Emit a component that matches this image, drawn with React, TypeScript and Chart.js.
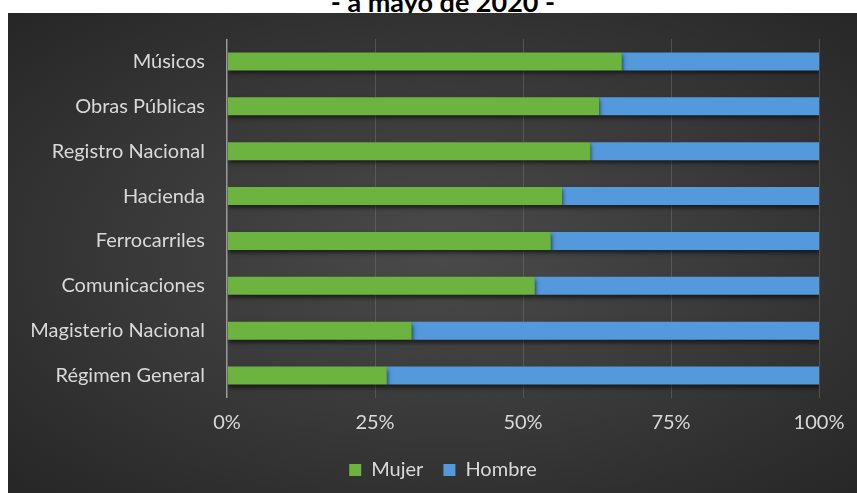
import React, { useEffect, useRef } from "react";
import { Chart, registerables } from "chart.js";

Chart.register(...registerables);

const categories = [
  "Músicos",
  "Obras Públicas",
  "Registro Nacional",
  "Hacienda",
  "Ferrocarriles",
  "Comunicaciones",
  "Magisterio Nacional",
  "Régimen General",
];
const mujer = [66.7, 62.9, 61.4, 56.6, 54.7, 52.0, 31.2, 27.0];
const hombre = [33.3, 37.1, 38.6, 43.4, 45.3, 48.0, 68.8, 73.0];
const xTicks = ["0%", "25%", "50%", "75%", "100%"];
const titleText = "- a mayo de 2020 -";

const FONT = "Lato, 'Open Sans', sans-serif";

export default function App() {
  const ref = useRef<HTMLCanvasElement | null>(null);

  useEffect(() => {
    if (!ref.current) return;
    const shadowPlugin = {
      id: "barShadow",
      beforeDatasetsDraw(chart: any) {
        const ctx = chart.ctx;
        ctx.save();
        ctx.shadowColor = "rgba(0,0,0,0.55)";
        ctx.shadowBlur = 4;
        ctx.shadowOffsetX = 1;
        ctx.shadowOffsetY = 3;
      },
      afterDatasetsDraw(chart: any) {
        chart.ctx.restore();
      },
    };
    const chart = new Chart(ref.current, {
      type: "bar",
      data: {
        labels: categories,
        datasets: [
          {
            label: "Mujer",
            data: mujer,
            backgroundColor: "#6CB33F",
            borderWidth: 0,
            barPercentage: 0.4,
            categoryPercentage: 1,
          },
          {
            label: "Hombre",
            data: hombre,
            backgroundColor: "#5499DC",
            borderWidth: 0,
            barPercentage: 0.4,
            categoryPercentage: 1,
          },
        ],
      },
      options: {
        indexAxis: "y",
        animation: false,
        responsive: false,
        maintainAspectRatio: false,
        layout: { padding: { top: 26, right: 0, left: 0, bottom: 3 } },
        scales: {
          x: {
            stacked: true,
            min: 0,
            max: 100,
            afterBuildTicks(scale: any) {
              scale.ticks = [0, 25, 50, 75, 100].map((v) => ({ value: v }));
            },
            afterFit(scale: any) {
              scale.height = 42;
              scale.paddingLeft = 0;
              scale.paddingRight = 0;
            },
            border: { display: false },
            grid: {
              drawTicks: false,
              color: (c: any) => (c.index === 0 ? "#9a9a9a" : "rgba(120,120,120,0.45)"),
              lineWidth: (c: any) => (c.index === 0 ? 1.5 : 1),
            },
            ticks: {
              padding: 13,
              color: "#d9d9d9",
              font: { family: FONT, size: 20 },
              callback: (_v: any, i: number) => xTicks[i],
              maxRotation: 0,
            },
          },
          y: {
            stacked: true,
            afterFit(scale: any) {
              scale.width = 219;
              scale.paddingTop = 0;
              scale.paddingBottom = 0;
            },
            border: { display: false },
            grid: { display: false, drawTicks: false },
            ticks: {
              padding: 22,
              color: "#d9d9d9",
              font: { family: FONT, size: 20 },
            },
          },
          yRight: {
            type: "category",
            position: "right",
            labels: categories,
            afterFit(scale: any) {
              scale.width = 59;
              scale.paddingTop = 0;
              scale.paddingBottom = 0;
            },
            border: { display: false },
            grid: { display: false, drawTicks: false },
            ticks: { display: false },
          },
        },
        plugins: {
          title: { display: false },
          tooltip: { enabled: false },
          legend: {
            display: true,
            position: "bottom",
            labels: {
              color: "#d9d9d9",
              font: { family: FONT, size: 20 },
              boxWidth: 12,
              boxHeight: 12,
              padding: 20,
            },
          },
        },
      },
      plugins: [shadowPlugin],
    } as any);
    return () => chart.destroy();
  }, []);

  return (
    <div
      style={{
        position: "absolute",
        left: 0,
        top: 0,
        width: 857,
        height: 493,
        overflow: "hidden",
        background: "#fff",
      }}
    >
      <div
        style={{
          position: "absolute",
          left: 443,
          top: -12.5,
          transform: "translateX(-50%)",
          whiteSpace: "nowrap",
          fontFamily: FONT,
          fontWeight: 700,
          fontSize: 27,
          lineHeight: "27px",
          color: "#000",
          zIndex: 0,
        }}
      >
        {titleText}
      </div>
      <div
        style={{
          position: "absolute",
          left: 8,
          top: 13,
          width: 870,
          height: 480,
          background:
            "radial-gradient(ellipse farthest-corner at 50% 50%, #4a4a4a 0%, #393939 50%, #262626 100%)",
          zIndex: 1,
        }}
      >
        <canvas ref={ref} width={870} height={480} style={{ display: "block" }} />
      </div>
    </div>
  );
}
